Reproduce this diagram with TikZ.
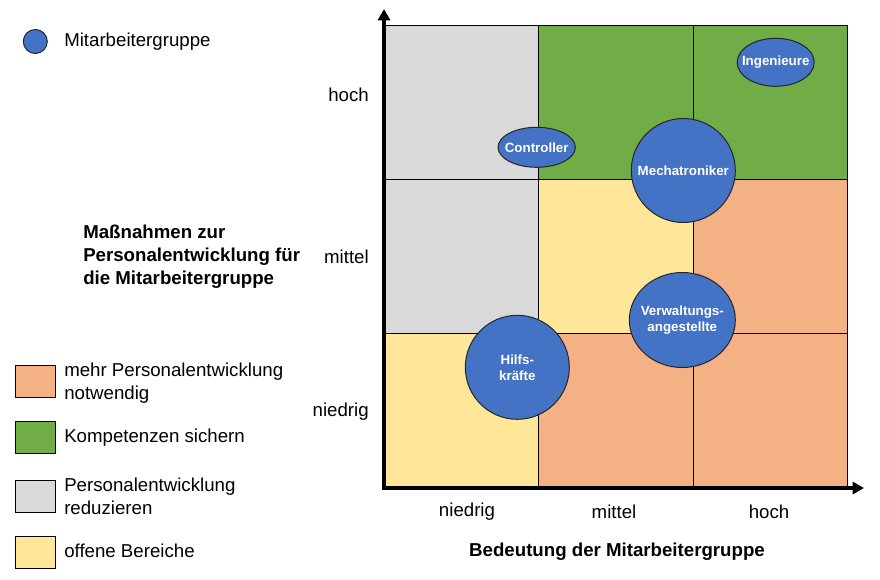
\documentclass[tikz,border=0pt]{standalone}
\usepackage{fontspec}
\setmainfont{Liberation Sans}
\usetikzlibrary{arrows.meta}
\definecolor{grpblue}{HTML}{4472C4}
\definecolor{keepgreen}{HTML}{70AD47}
\definecolor{moreorange}{HTML}{F4B183}
\definecolor{lessgray}{HTML}{D9D9D9}
\definecolor{openyellow}{HTML}{FFE699}

\begin{document}
\begin{tikzpicture}[x=0.75pt, y=-0.75pt,
    grp/.style={draw=black!85, fill=grpblue, line width=0.75pt},
    grplabel/.style={text=white, font=\fontsize{10}{12}\selectfont\bfseries, align=center, inner sep=0pt},
    legbox/.style={draw=black, line width=0.75pt},
    lbl/.style={font=\fontsize{14}{17.4}\selectfont, inner sep=0pt},
    axis/.style={line width=2.3pt, -{Triangle[length=8.5pt, width=9pt]}}]
  \useasboundingbox (0,0) rectangle (880,579);

  % Felder
  \foreach \xa/\ya/\farbe in {384/25/lessgray, 538.7/25/keepgreen, 693.3/25/keepgreen,
      384/179.3/lessgray, 538.7/179.3/openyellow, 693.3/179.3/moreorange,
      384/333.7/openyellow, 538.7/333.7/moreorange, 693.3/333.7/moreorange}{
    \draw[fill=\farbe, line width=0.75pt] (\xa,\ya) rectangle ++(154.6,154.3);
  }

  % Achsen
  \draw[axis] (384,489.5) -- (384,9);
  \draw[axis] (382.5,488) -- (864,488);

  \foreach \txt/\yy in {hoch/95, mittel/257, niedrig/412}
    \node[lbl, anchor=east] (y\txt) at (369,\yy) {\txt};
  \foreach \txt/\xx in {niedrig/467, mittel/614, hoch/769}
    \node[lbl] (x\txt) at (\xx,512) {\txt};
  \node[lbl, font=\fontsize{14}{17.4}\selectfont\bfseries] (xtitle) at (617,552) {Bedeutung der Mitarbeitergruppe};
  \node[lbl, font=\fontsize{14}{17.4}\selectfont\bfseries, anchor=west, align=left] (ytitle) at (83,257)
    {Maßnahmen zur\\Personalentwicklung für\\die Mitarbeitergruppe};

  % Mitarbeitergruppen
  \draw[grp] (775.7,62.3) ellipse (38.5 and 24);
  \node[grplabel] (ingenieure) at (775.7,62.5) {Ingenieure};
  \draw[grp] (536.7,147.3) ellipse (38.7 and 20);
  \node[grplabel] (controller) at (536.7,147.5) {Controller};
  \draw[grp] (683.3,170.5) circle (52);
  \node[grplabel] (mechatroniker) at (683.3,170.5) {Mechatroniker};
  \draw[grp] (682.3,320) ellipse (53 and 47.5);
  \node[grplabel, font=\fontsize{10}{12}\selectfont\bfseries] (verwaltung) at (682.3,320.5) {Verwaltungs-\\angestellte};
  \draw[grp] (517.3,367.3) circle (52);
  \node[grplabel] (hilfskraefte) at (517.3,367.5) {Hilfs-\\kräfte};

  % Legende
  \draw[grp] (35.3,41.5) circle (12);
  \node[lbl, anchor=west] (leggruppe) at (64,42) {Mitarbeitergruppe};
  \draw[legbox, fill=moreorange] (15,365) rectangle (55,397);
  \node[lbl, anchor=west, align=left] (legmehr) at (64,383.5) {mehr Personalentwicklung\\notwendig};
  \draw[legbox, fill=keepgreen] (15,421.7) rectangle (55,453.3);
  \node[lbl, anchor=west] (legsichern) at (64,438) {Kompetenzen sichern};
  \draw[legbox, fill=lessgray] (15,480) rectangle (55,512);
  \node[lbl, anchor=west, align=left] (legweniger) at (64,496) {Personalentwicklung\\reduzieren};
  \draw[legbox, fill=openyellow] (15,536) rectangle (55,568.3);
  \node[lbl, anchor=west] (legoffen) at (64,550.5) {offene Bereiche};
\end{tikzpicture}
\end{document}
